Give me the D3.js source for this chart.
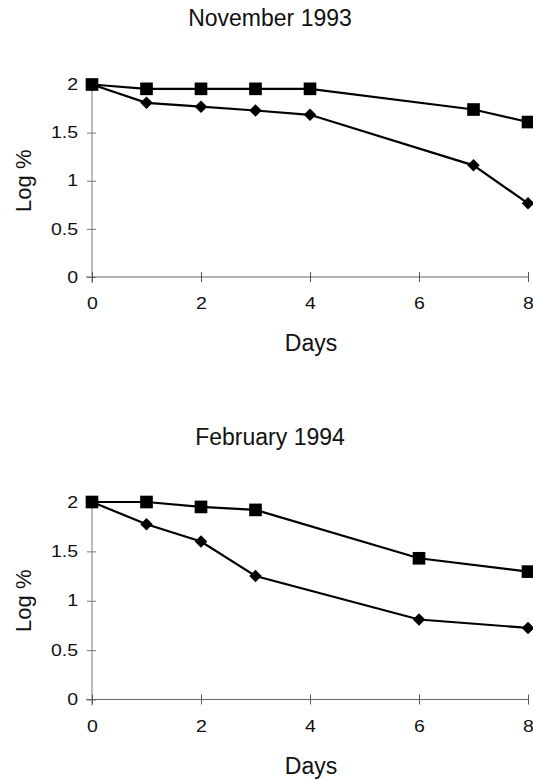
<!DOCTYPE html>
<html>
<head>
<meta charset="utf-8">
<script src="https://cdn.jsdelivr.net/npm/d3@7"></script>
<style>
  body { margin: 0; background: #fff; }
  text { font-family: "Liberation Sans", Arial, sans-serif; fill: #111; }
</style>
</head>
<body>
<script>
const width = 533;
const height = 780;

// data
const novDays = [0, 1, 2, 3, 4, 7, 8];
const novSquares = [2.0, 1.955, 1.955, 1.955, 1.955, 1.74, 1.61];
const novDiamonds = [2.0, 1.81, 1.77, 1.73, 1.685, 1.16, 0.765];

const febDays = [0, 1, 2, 3, 6, 8];
const febSquares = [2.0, 2.0, 1.95, 1.92, 1.43, 1.295];
const febDiamonds = [2.0, 1.775, 1.6, 1.25, 0.81, 0.725];

const xTicks = [0, 2, 4, 6, 8];
const yTicks = [0, 0.5, 1, 1.5, 2];

const svg = d3.select("body").append("svg")
    .attr("width", width)
    .attr("height", height);

// one panel = title + axes + two series
function panel(opts) {
  const x = d3.scaleLinear().domain([0, 8]).range([92, 528]);
  const y = d3.scaleLinear().domain([0, 2]).range([opts.y0, opts.y2]);
  const g = svg.append("g");

  g.append("text")
    .attr("x", 270).attr("y", opts.titleY)
    .attr("text-anchor", "middle")
    .style("font-size", "23px")
    .text(opts.title);

  // axes (tick labels in the scan are a bit wide, so stretch them)
  const yaxis = d3.axisLeft(y).tickValues(yTicks).tickFormat(d3.format("")).tickSize(0).tickPadding(0);
  const gy = g.append("g").attr("transform", `translate(${x(0)},0)`).call(yaxis);
  gy.select(".domain").attr("d", `M0,${y(2)}V${y(0) + 6}`).attr("stroke", "#777").attr("stroke-width", 1);
  gy.selectAll("text").style("font-size", "16px")
    .attr("x", 0).attr("transform", "translate(-14,0) scale(1.22,1)");
  gy.selectAll(".tick").append("line").attr("x1", -5).attr("x2", 4).attr("stroke", "#777");

  const xaxis = d3.axisBottom(x).tickValues(xTicks).tickSize(0).tickPadding(21);
  const gx = g.append("g").attr("transform", `translate(0,${y(0)})`).call(xaxis);
  gx.select(".domain").attr("d", `M${x(0) - 6},0H${x(8)}`).attr("stroke", "#666").attr("stroke-width", 1);
  gx.selectAll("text").style("font-size", "16px").attr("transform", "scale(1.22,1)");
  gx.selectAll(".tick").append("line").attr("y1", -5).attr("y2", 5).attr("stroke", "#555");

  g.append("text")
    .attr("x", 311).attr("y", y(0) + 74)
    .attr("text-anchor", "middle")
    .style("font-size", "23px")
    .text("Days");

  g.append("text")
    .attr("transform", `translate(31,${(y(0) + y(2)) / 2}) rotate(-90)`)
    .attr("text-anchor", "middle")
    .style("font-size", "22px")
    .text("Log %");

  const line = d3.line().x((d, i) => x(opts.days[i])).y(d => y(d));

  [opts.diamonds, opts.squares].forEach(s => {
    g.append("path").datum(s)
      .attr("d", line)
      .attr("fill", "none")
      .attr("stroke", "#000")
      .attr("stroke-width", 2.2);
  });

  g.selectAll(".dia").data(opts.diamonds).enter().append("path")
    .attr("class", "dia")
    .attr("d", d3.symbol(d3.symbolSquare, 78))
    .attr("transform", (d, i) => `translate(${x(opts.days[i])},${y(d)}) rotate(45)`)
    .attr("fill", "#000");

  g.selectAll(".sq").data(opts.squares).enter().append("path")
    .attr("class", "sq")
    .attr("d", d3.symbol(d3.symbolSquare, 160))
    .attr("transform", (d, i) => `translate(${x(opts.days[i])},${y(d)})`)
    .attr("fill", "#000");
}

panel({title: "November 1993", titleY: 26, y0: 277, y2: 84.5,
       days: novDays, squares: novSquares, diamonds: novDiamonds});
panel({title: "February 1994", titleY: 445, y0: 699.5, y2: 502,
       days: febDays, squares: febSquares, diamonds: febDiamonds});
</script>
</body>
</html>
